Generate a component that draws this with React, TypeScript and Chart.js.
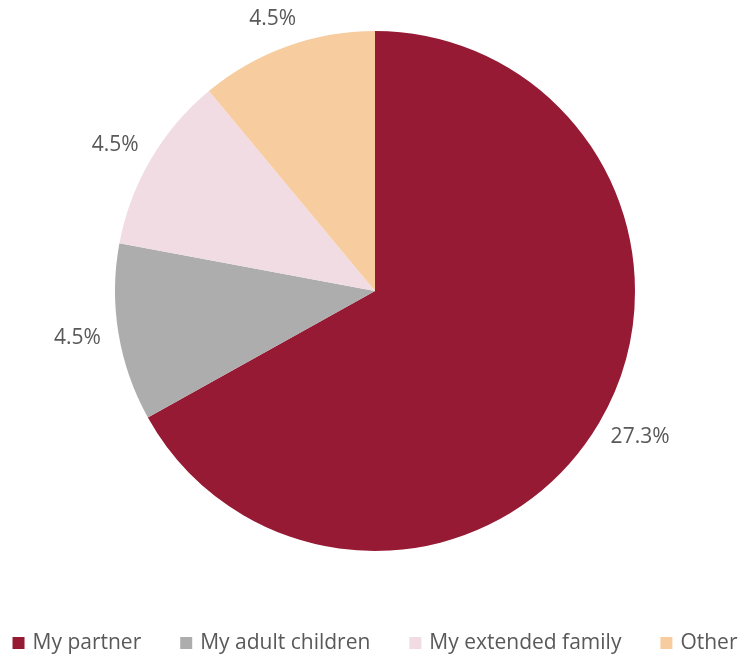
import React, { useEffect, useRef } from "react";
import { Chart, registerables } from "chart.js";

Chart.register(...registerables);

const categories = ["My partner", "My adult children", "My extended family", "Other"];
const values = [27.3, 4.5, 4.5, 4.5];
const valueLabels = ["27.3%", "4.5%", "4.5%", "4.5%"];
const colors = ["#961A34", "#ADADAD", "#F2DCE4", "#F7CDA0"];

const FONT = "'Open Sans', 'DejaVu Sans', sans-serif";
const TEXT_COLOR = "#595959";

const outsideLabels = {
  id: "outsideLabels",
  afterDatasetsDraw(chart: any) {
    const ctx = chart.ctx as CanvasRenderingContext2D;
    const meta = chart.getDatasetMeta(0);
    ctx.save();
    ctx.font = `21px ${FONT}`;
    ctx.fillStyle = TEXT_COLOR;
    ctx.textAlign = "center";
    ctx.textBaseline = "middle";
    meta.data.forEach((arc: any, i: number) => {
      const { x, y, startAngle, endAngle, outerRadius } = arc.getProps(
        ["x", "y", "startAngle", "endAngle", "outerRadius"],
        true
      );
      const mid = (startAngle + endAngle) / 2;
      const dx = Math.cos(mid);
      const dy = Math.sin(mid);
      const text = valueLabels[i];
      const w = ctx.measureText(text).width;
      const h = 22;
      const r = outerRadius + 18;
      const cx = x + dx * r + (dx * w) / 2;
      const cy = y + dy * r + (dy * h) / 2;
      ctx.fillText(text, cx, cy);
    });
    ctx.restore();
  },
};

const bottomLegend = {
  id: "bottomLegend",
  afterDraw(chart: any) {
    const ctx = chart.ctx as CanvasRenderingContext2D;
    const labels: string[] = chart.data.labels;
    const bg: string[] = chart.data.datasets[0].backgroundColor;
    ctx.save();
    ctx.font = `21px ${FONT}`;
    ctx.textBaseline = "middle";
    ctx.textAlign = "left";
    const box = 12;
    const gapBoxText = 8;
    const gapItems = 39;
    const widths = labels.map((l) => box + gapBoxText + ctx.measureText(l).width);
    const total = widths.reduce((a, b) => a + b, 0) + gapItems * (labels.length - 1);
    const centerX = (chart.chartArea.left + chart.chartArea.right) / 2;
    let x = centerX - total / 2;
    const yc = 643;
    labels.forEach((l, i) => {
      ctx.fillStyle = bg[i];
      ctx.fillRect(x, yc - box / 2, box, box);
      ctx.fillStyle = TEXT_COLOR;
      ctx.fillText(l, x + box + gapBoxText, yc);
      x += widths[i] + gapItems;
    });
    ctx.restore();
  },
};

export default function App() {
  const ref = useRef<HTMLCanvasElement | null>(null);
  useEffect(() => {
    document.body.style.margin = "0";
    if (!ref.current) return;
    const chart = new Chart(ref.current, {
      type: "pie",
      data: {
        labels: categories,
        datasets: [
          {
            data: values,
            backgroundColor: colors,
            borderWidth: 0,
          },
        ],
      },
      options: {
        animation: false,
        responsive: false,
        layout: { padding: { top: 31, bottom: 105, left: 115, right: 107 } },
        plugins: {
          legend: { display: false },
          tooltip: { enabled: false },
        },
      },
      plugins: [outsideLabels, bottomLegend],
    });
    return () => chart.destroy();
  }, []);
  return (
    <div style={{ width: 742, height: 656 }}>
      <canvas ref={ref} width={742} height={656} style={{ display: "block" }} />
    </div>
  );
}
